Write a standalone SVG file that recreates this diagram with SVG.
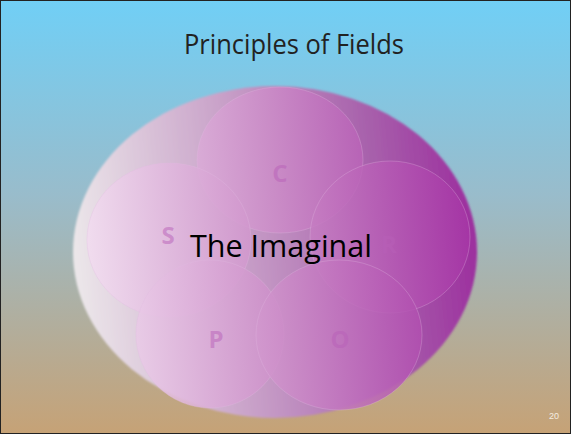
<svg xmlns="http://www.w3.org/2000/svg" width="571" height="434" viewBox="0 0 571 434">
<defs>
<linearGradient id="bg" x1="0" y1="0" x2="0" y2="1">
<stop offset="0" stop-color="#70cff6"/>
<stop offset="0.45" stop-color="#99bccb"/>
<stop offset="1" stop-color="#c6a276"/>
</linearGradient>
<linearGradient id="big" gradientUnits="userSpaceOnUse" x1="73" y1="270" x2="477" y2="230">
<stop offset="0" stop-color="#ece8ea"/>
<stop offset="0.4" stop-color="#c9a2c9"/>
<stop offset="0.75" stop-color="#a862ac"/>
<stop offset="1" stop-color="#9c2e9e"/>
</linearGradient>
<linearGradient id="circ" gradientUnits="userSpaceOnUse" x1="87" y1="260" x2="470" y2="230">
<stop offset="0" stop-color="#f2dcf0" stop-opacity="0.85"/>
<stop offset="0.5" stop-color="#cc8cc8" stop-opacity="0.85"/>
<stop offset="1" stop-color="#a636a6" stop-opacity="0.85"/>
</linearGradient>
<filter id="soft" x="-5%" y="-5%" width="110%" height="110%"><feGaussianBlur stdDeviation="1.2"/></filter>
</defs>
<style>
.c{fill:url(#circ);stroke:#e0b8e0;stroke-opacity:0.3;stroke-width:1}
.l{font-family:"Open Sans","DejaVu Sans",sans-serif;font-weight:bold;font-size:24px;fill:#b860b8;fill-opacity:0.5;text-anchor:middle}
</style>
<rect x="0" y="0" width="571" height="434" fill="url(#bg)"/>
<rect x="0.5" y="0.5" width="570" height="433" fill="none" stroke="#222" stroke-width="1"/>
<text x="294" y="54" font-family="'Open Sans','Liberation Sans',sans-serif" font-size="28" fill="#222" text-anchor="middle" textLength="220" lengthAdjust="spacingAndGlyphs">Principles of Fields</text>
<g id="field">
<ellipse cx="275" cy="252" rx="202" ry="166" fill="url(#big)" filter="url(#soft)"/>
</g>
<g id="node-C">
<ellipse class="c" cx="280" cy="160" rx="83" ry="73"/>
<text class="l" x="280" y="182">C</text>
</g>
<g id="node-R">
<ellipse class="c" cx="390" cy="237" rx="80" ry="76"/>
<text class="l" x="389" y="253">R</text>
</g>
<g id="node-S">
<ellipse class="c" cx="169" cy="240" rx="82" ry="77"/>
<text class="l" x="168" y="244">S</text>
</g>
<g id="node-P">
<ellipse class="c" cx="210" cy="334" rx="74" ry="74"/>
<text class="l" x="216" y="348">P</text>
</g>
<g id="node-O">
<ellipse class="c" cx="339" cy="335" rx="83" ry="75"/>
<text class="l" x="340" y="348">O</text>
</g>
<g id="connectors"/>
<text x="281" y="257" font-family="'Open Sans','Liberation Sans',sans-serif" font-size="31" fill="#000" text-anchor="middle" textLength="182" lengthAdjust="spacingAndGlyphs">The Imaginal</text>
<text x="554" y="419" font-family="'Liberation Sans',sans-serif" font-size="9" fill="#f4ece0" text-anchor="middle">20</text>
</svg>
